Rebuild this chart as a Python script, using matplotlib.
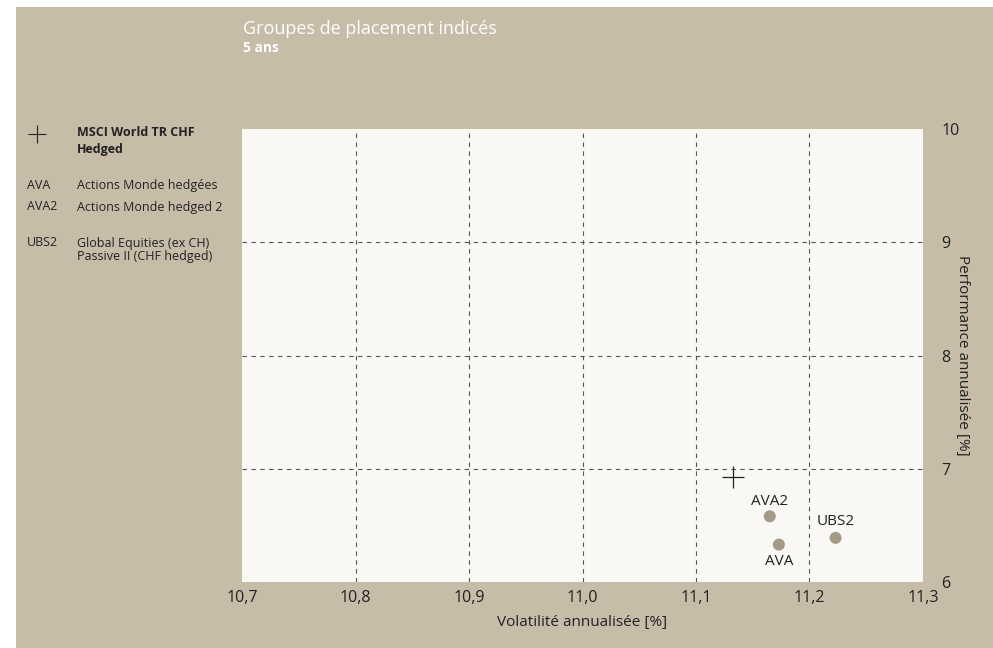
import matplotlib.pyplot as plt
from matplotlib.lines import Line2D

plt.rcParams['font.family'] = ['Open Sans', 'DejaVu Sans']

# données (volatilité, performance) sur 5 ans
bench_name = "MSCI World TR CHF\nHedged"
bench_vol = 11.133
bench_perf = 6.93

codes = ["AVA", "AVA2", "UBS2"]
names = ["Actions Monde hedgées", "Actions Monde hedged 2",
         "Global Equities (ex CH)\nPassive II (CHF hedged)"]
vols = [11.173, 11.165, 11.223]
perfs = [6.33, 6.58, 6.39]

x_ticks = [10.7, 10.8, 10.9, 11.0, 11.1, 11.2, 11.3]
y_ticks = [6, 7, 8, 9, 10]

bg = '#c7bca8'
W, H = 993, 648
fig = plt.figure(figsize=(W / 100, H / 100), dpi=100)
fig.patch.set_facecolor('white')
# panneau beige
fig.patches.append(plt.Rectangle((16 / W, 0), 1, 1 - 7 / H, transform=fig.transFigure,
                                 facecolor=bg, edgecolor='none', zorder=-5))

ax = fig.add_axes([242 / W, 1 - 582 / H, (923 - 242) / W, (582 - 129) / H])
ax.set_facecolor('#f9f8f4')
ax.set_xlim(10.7, 11.3)
ax.set_ylim(6, 10)
for s in ax.spines.values():
    s.set_visible(False)

ax.set_xticks(x_ticks)
ax.set_xticklabels([f"{v:.1f}".replace('.', ',') for v in x_ticks])
ax.set_yticks(y_ticks)
ax.set_yticklabels([str(v) for v in y_ticks])
ax.yaxis.tick_right()
ax.yaxis.set_label_position('right')
ax.tick_params(axis='both', length=0, labelsize=11.5, colors='#222222')
ax.tick_params(axis='x', pad=6)
ax.tick_params(axis='y', pad=13)

# grille pointillée seulement à l'intérieur
for v in x_ticks[1:-1]:
    ax.axvline(v, color='#555555', linestyle=(0, (4, 4)), linewidth=0.8, zorder=1)
for v in y_ticks[1:-1]:
    ax.axhline(v, color='#555555', linestyle=(0, (4, 4)), linewidth=0.8, zorder=1)

ax.set_xlabel("Volatilité annualisée [%]", fontsize=11, color='#222222', labelpad=6)
ax.set_ylabel("Performance annualisée [%]", fontsize=11, color='#222222',
              rotation=-90, labelpad=8)

# benchmark
ax.scatter([bench_vol], [bench_perf], marker='+', s=230, color='#222222', linewidths=0.9, zorder=3)
# groupes de placement
ax.scatter(vols, perfs, s=75, color='#a39b88', edgecolors='none', zorder=3)
offsets = {"AVA": (0, -12, 'center'), "AVA2": (0, 11, 'center'), "UBS2": (0, 12, 'center')}
for c, x, y in zip(codes, vols, perfs):
    dx, dy, ha = offsets[c]
    ax.annotate(c, (x, y), xytext=(dx, dy), textcoords='offset points',
                ha=ha, va='center', fontsize=11, color='#222222')

# titre
fig.text(243 / W, 1 - 29 / H, "Groupes de placement indicés", color='white',
         fontsize=13, va='center', ha='left')
fig.text(243 / W, 1 - 48 / H, "5 ans", color='white', fontsize=10,
         fontweight='bold', va='center', ha='left')

# légende
fig.lines.append(Line2D([37 / W], [1 - 134 / H], transform=fig.transFigure, marker='+',
                        markersize=13, markeredgewidth=0.8, color='#222222', linestyle='none'))
fig.text(77 / W, 1 - 126 / H, bench_name, fontsize=9, fontweight='bold',
         color='#222222', ha='left', va='top', linespacing=1.35)
legend_y = [186, 207, 250]
for c, n, y in zip(codes, names, legend_y):
    fig.text(27 / W, 1 - (y - 7 if '\n' in n else y) / H, c, fontsize=9, color='#222222',
             ha='left', va='center')
    fig.text(77 / W, 1 - y / H, n, fontsize=9, color='#222222', ha='left',
             va='center', linespacing=0.95)

fig.savefig('out.png', dpi=100, facecolor=fig.get_facecolor())
